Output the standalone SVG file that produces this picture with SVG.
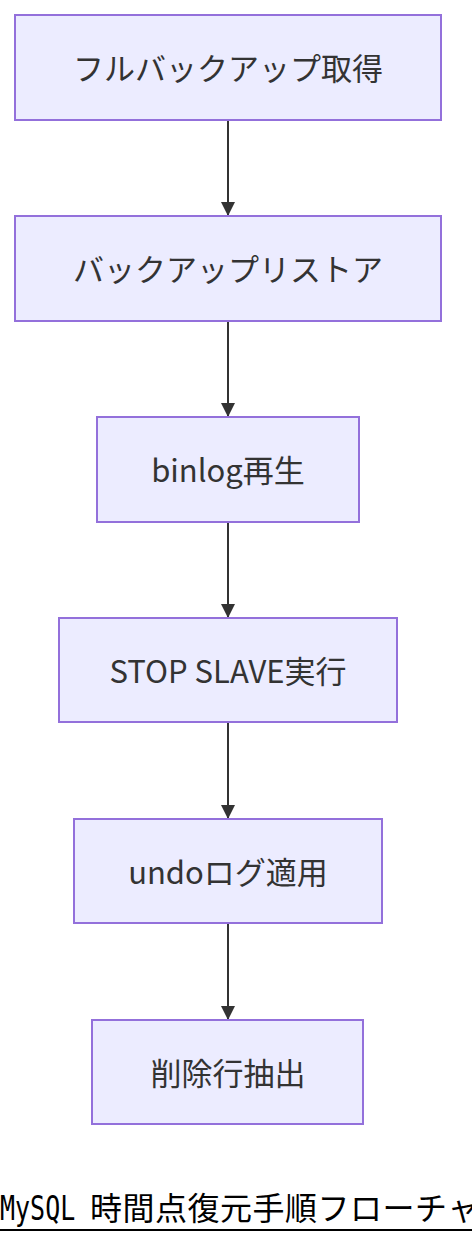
<svg xmlns="http://www.w3.org/2000/svg" width="472" height="1244" viewBox="0 0 472 1244">
<style>
.node rect{fill:#ECECFF;stroke:#9370DB;stroke-width:2}
.node text{font-family:"Noto Sans CJK JP",sans-serif;font-size:31px;fill:#333;text-anchor:middle;dominant-baseline:central}
.edge{stroke:#333;stroke-width:2;fill:none}
</style>
<defs>
<marker id="arrow" viewBox="0 0 10 10" refX="10" refY="5" markerUnits="userSpaceOnUse" markerWidth="14" markerHeight="14" orient="auto">
<path d="M0,0 L10,5 L0,10 z" fill="#333"/>
</marker>
</defs>
<rect width="472" height="1244" fill="#fff"/>
<g id="connectors">
<line class="edge" x1="228" y1="120" x2="228" y2="216" marker-end="url(#arrow)"/>
<line class="edge" x1="228" y1="321" x2="228" y2="417" marker-end="url(#arrow)"/>
<line class="edge" x1="228" y1="522" x2="228" y2="618" marker-end="url(#arrow)"/>
<line class="edge" x1="228" y1="722" x2="228" y2="819" marker-end="url(#arrow)"/>
<line class="edge" x1="228" y1="923" x2="228" y2="1020" marker-end="url(#arrow)"/>
</g>
<g id="n1" class="node"><rect x="15" y="15" width="426" height="105"/><text x="228" y="66">フルバックアップ取得</text></g>
<g id="n2" class="node"><rect x="15" y="216" width="426" height="105"/><text x="228" y="267">バックアップリストア</text></g>
<g id="n3" class="node"><rect x="97" y="417" width="262" height="105"/><text x="228" y="468">binlog再生</text></g>
<g id="n4" class="node"><rect x="59" y="618" width="338" height="104"/><text x="228" y="669">STOP SLAVE実行</text></g>
<g id="n5" class="node"><rect x="74" y="819" width="308" height="104"/><text x="228" y="870">undoログ適用</text></g>
<g id="n6" class="node"><rect x="92" y="1020" width="271" height="104"/><text x="228" y="1071">削除行抽出</text></g>
<g id="title">
<text transform="translate(0,1220) scale(1,1.35)" font-family="'DejaVu Sans Mono',monospace" font-size="25" fill="#000">MySQL</text>
<text x="90" y="1220" font-family="'Noto Sans CJK JP',sans-serif" font-size="32" letter-spacing="0.5" fill="#000">時間点復元手順フローチャート</text>
<line x1="0" y1="1230" x2="472" y2="1230" stroke="#000" stroke-width="2"/>
</g>
</svg>
